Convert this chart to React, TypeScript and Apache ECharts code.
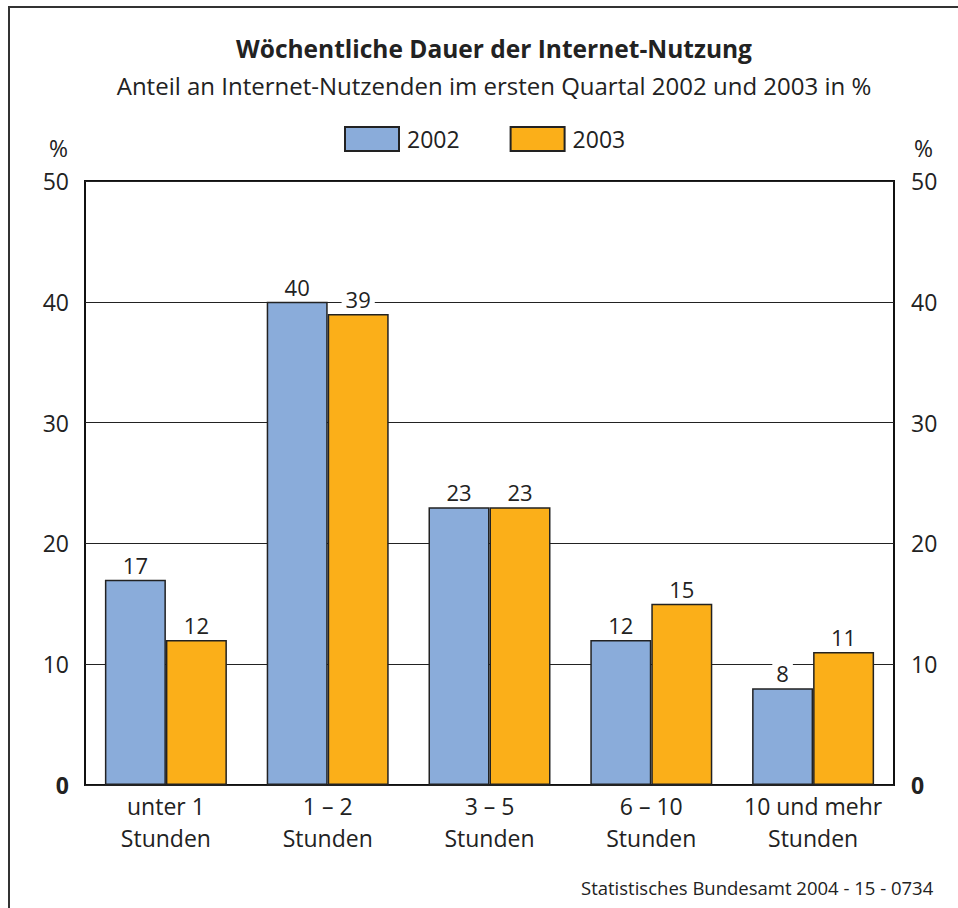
import React, { useEffect, useRef } from "react";
import * as echarts from "echarts";

const categories = ["unter 1\nStunden", "1 – 2\nStunden", "3 – 5\nStunden", "6 – 10\nStunden", "10 und mehr\nStunden"];
const values2002 = [17, 40, 23, 12, 8];
const values2003 = [12, 39, 23, 15, 11];
const seriesNames = ["2002", "2003"];
const title = "Wöchentliche Dauer der Internet-Nutzung";
const subtitle = "Anteil an Internet-Nutzenden im ersten Quartal 2002 und 2003 in %";
const source = "Statistisches Bundesamt 2004 - 15 - 0734";

const FONT = "'Open Sans', sans-serif";
const TXT = "#222";
const FS = 23;

export default function App() {
  const ref = useRef<HTMLDivElement>(null);
  useEffect(() => {
    if (!ref.current) return;
    const chart = echarts.init(ref.current, null, { renderer: "svg" });
    const yAxisCommon = (pos: "left" | "right") => ({
      type: "value",
      position: pos,
      min: 0,
      max: 50,
      interval: 10,
      name: "%",
      nameLocation: "end",
      nameGap: 22,
      nameTextStyle: {
        fontFamily: FONT,
        fontSize: FS,
        color: TXT,
        align: pos === "left" ? "right" : "left",
        padding: pos === "left" ? [0, 17, 0, 0] : [0, 0, 0, 20],
      },
      axisLine: { show: false },
      axisTick: { show: false },
      splitLine: { show: pos === "left", lineStyle: { color: "#222", width: 1 } },
      axisLabel: {
        fontFamily: FONT,
        fontSize: FS,
        color: TXT,
        margin: pos === "left" ? 16 : 17,
        formatter: (v: number) => (v === 0 ? "{b|0}" : String(v)),
        rich: { b: { fontFamily: FONT, fontSize: FS, fontWeight: "bold", color: TXT } },
      },
    });
    const label = {
      show: true,
      position: "top",
      distance: 4,
      fontFamily: FONT,
      fontSize: 22,
      color: TXT,
      backgroundColor: "#fff",
      padding: [0, 4, 0, 4],
    };
    chart.setOption({
      animation: false,
      backgroundColor: "#fff",
      title: [
        {
          text: title,
          left: 489,
          top: 31,
          textAlign: "center",
          textStyle: { fontFamily: FONT, fontSize: 24.5, fontWeight: "bold", color: TXT },
        },
        {
          text: subtitle,
          left: 489,
          top: 68,
          textAlign: "center",
          textStyle: { fontFamily: FONT, fontSize: 24, fontWeight: "normal", color: TXT },
        },
        {
          text: source,
          left: 581,
          top: 878,
          padding: 0,
          textStyle: { fontFamily: FONT, fontSize: 18.5, fontWeight: "normal", color: TXT },
        },
      ],
      legend: {
        left: 339,
        top: 121,
        itemWidth: 54,
        itemHeight: 24,
        itemGap: 50,
        icon: "rect",
        textStyle: { fontFamily: FONT, fontSize: FS, color: TXT, padding: [0, 0, 0, 3] },
        data: seriesNames,
      },
      grid: {
        left: 85,
        right: 64,
        top: 181,
        bottom: 123,
        show: true,
        borderColor: "#111",
        borderWidth: 2,
        containLabel: false,
      },
      xAxis: {
        type: "category",
        data: categories,
        axisLine: { show: false },
        axisTick: { show: false },
        axisLabel: {
          fontFamily: FONT,
          fontSize: FS,
          color: TXT,
          lineHeight: 32,
          margin: 5,
          interval: 0,
        },
      },
      yAxis: [yAxisCommon("left"), yAxisCommon("right")],
      graphic: [
        {
          type: "rect",
          shape: { x: 9, y: 7, width: 1200, height: 1200 },
          style: { fill: "none", stroke: "#333", lineWidth: 2 },
          z: 100,
        },
      ],
      series: [
        {
          name: seriesNames[0],
          type: "bar",
          data: values2002,
          barWidth: "37.7%",
          barGap: "0%",
          itemStyle: { color: "#8AACDA", borderColor: "#222", borderWidth: 1.5 },
          label,
        },
        {
          name: seriesNames[1],
          type: "bar",
          data: values2003,
          barWidth: "37.7%",
          itemStyle: { color: "#FBAF19", borderColor: "#222", borderWidth: 1.5 },
          label,
        },
      ],
    });
    return () => chart.dispose();
  }, []);
  return (
    <div
      ref={ref}
      style={{ position: "fixed", left: 0, top: 0, width: 958, height: 908 }}
    />
  );
}
